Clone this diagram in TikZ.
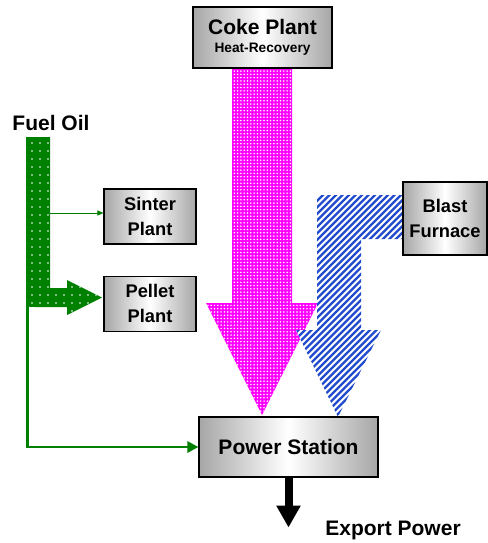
\documentclass[tikz,border=0pt]{standalone}
\usepackage{fontspec}
\setmainfont{Liberation Sans}
\usetikzlibrary{positioning,arrows.meta,patterns.meta}

\definecolor{oilgreen}{RGB}{0,128,0}
\definecolor{furnblue}{RGB}{35,75,205}
\definecolor{cokepink}{RGB}{255,0,255}

\begin{document}
\begin{tikzpicture}[x=1pt, y=-1pt,
  plant/.style={draw, line width=1.1pt, left color=gray!70, right color=gray!70,
    middle color=white, align=center, inner sep=0pt,
    font=\bfseries\fontsize{18.3}{25}\selectfont},
  bigtext/.style={font=\bfseries\fontsize{21}{24}\selectfont, inner sep=0pt},
  heatflow/.style={fill=cokepink, postaction={pattern={Dots[distance=3.3pt, radius=0.85pt]}, pattern color=white}},
  hatchline/.style={furnblue, line width=2.3pt},
  oilflow/.style={fill=oilgreen, postaction={pattern={Dots[distance=8pt, radius=0.8pt]}, pattern color=white}},
  oilline/.style={draw=oilgreen, line width=2.8pt, -{Triangle[length=11pt, width=11pt]}},
  arr/.style={line width=8pt, -{Triangle[length=22pt, width=23pt]}}
]
\useasboundingbox (0,0) rectangle (487,543);

% flows drawn first, boxes on top
\coordinate (cokeout) at (262,68);
\coordinate (mtip) at (262,415);
\path[heatflow] (cokeout) ++(-30,0) -- ++(60,0) -- (292,303) -- (318,303)
  -- (mtip) -- (206,303) -- (232,303) -- cycle;

\coordinate (blastout) at (403,195);
\coordinate (btip) at (338,417);
\begin{scope}
  \clip (blastout) -- (327,195) .. controls (317,195) .. (317,205)
    -- (317,330) -- (296,330) -- (btip) -- (381,330) -- (361,330)
    -- (361,239) -- (403,239) -- cycle;
  \fill[white] (290,190) rectangle (405,420);
  \foreach \s in {80,86.5,...,340}
    \draw[hatchline] (\s,425) -- ++(260,-260);
\end{scope}

\coordinate (oiltop) at (26,137);
\path[oilflow] (oiltop) -- (26,298) .. controls (26,307) .. (35,307)
  -- (67,307) -- (67,315) -- (102,297.5) -- (67,280) -- (67,288)
  -- (50,288) -- (50,137) -- cycle;

% boxes
\node[plant, minimum width=139pt, minimum height=61pt,
  font=\bfseries\fontsize{21}{18}\selectfont] (coke) at (262.5,37.5)
  {Coke Plant\\{\fontsize{13.7}{16}\selectfont Heat-Recovery}};
\node[plant, minimum width=92pt, minimum height=55pt] (sinter) at (150,216.5) {Sinter\\Plant};
\node[plant, minimum width=92pt, minimum height=55pt, below=31pt of sinter] (pellet) {Pellet\\Plant};
\node[plant, minimum width=84pt, minimum height=73pt] (blast) at (445,218.5) {Blast\\Furnace};
\node[plant, minimum width=179pt, minimum height=60pt,
  font=\bfseries\fontsize{21}{24}\selectfont] (power) at (288.5,447) {Power Station};

\node[bigtext] (oil) at (51,122.5) {Fuel Oil};
\node[bigtext] (export) at (393,530) {Export Power};

% connectors
\coordinate (split) at (27.4,296);
\draw[oilline] (split) |- (power.west);
\draw[draw=oilgreen, line width=1pt, -{Triangle[length=6pt, width=5pt]}]
  (50,213) -- (sinter.west |- 0,213);
\draw[arr] (power.south) -- ++(0,50);
\end{tikzpicture}
\end{document}
